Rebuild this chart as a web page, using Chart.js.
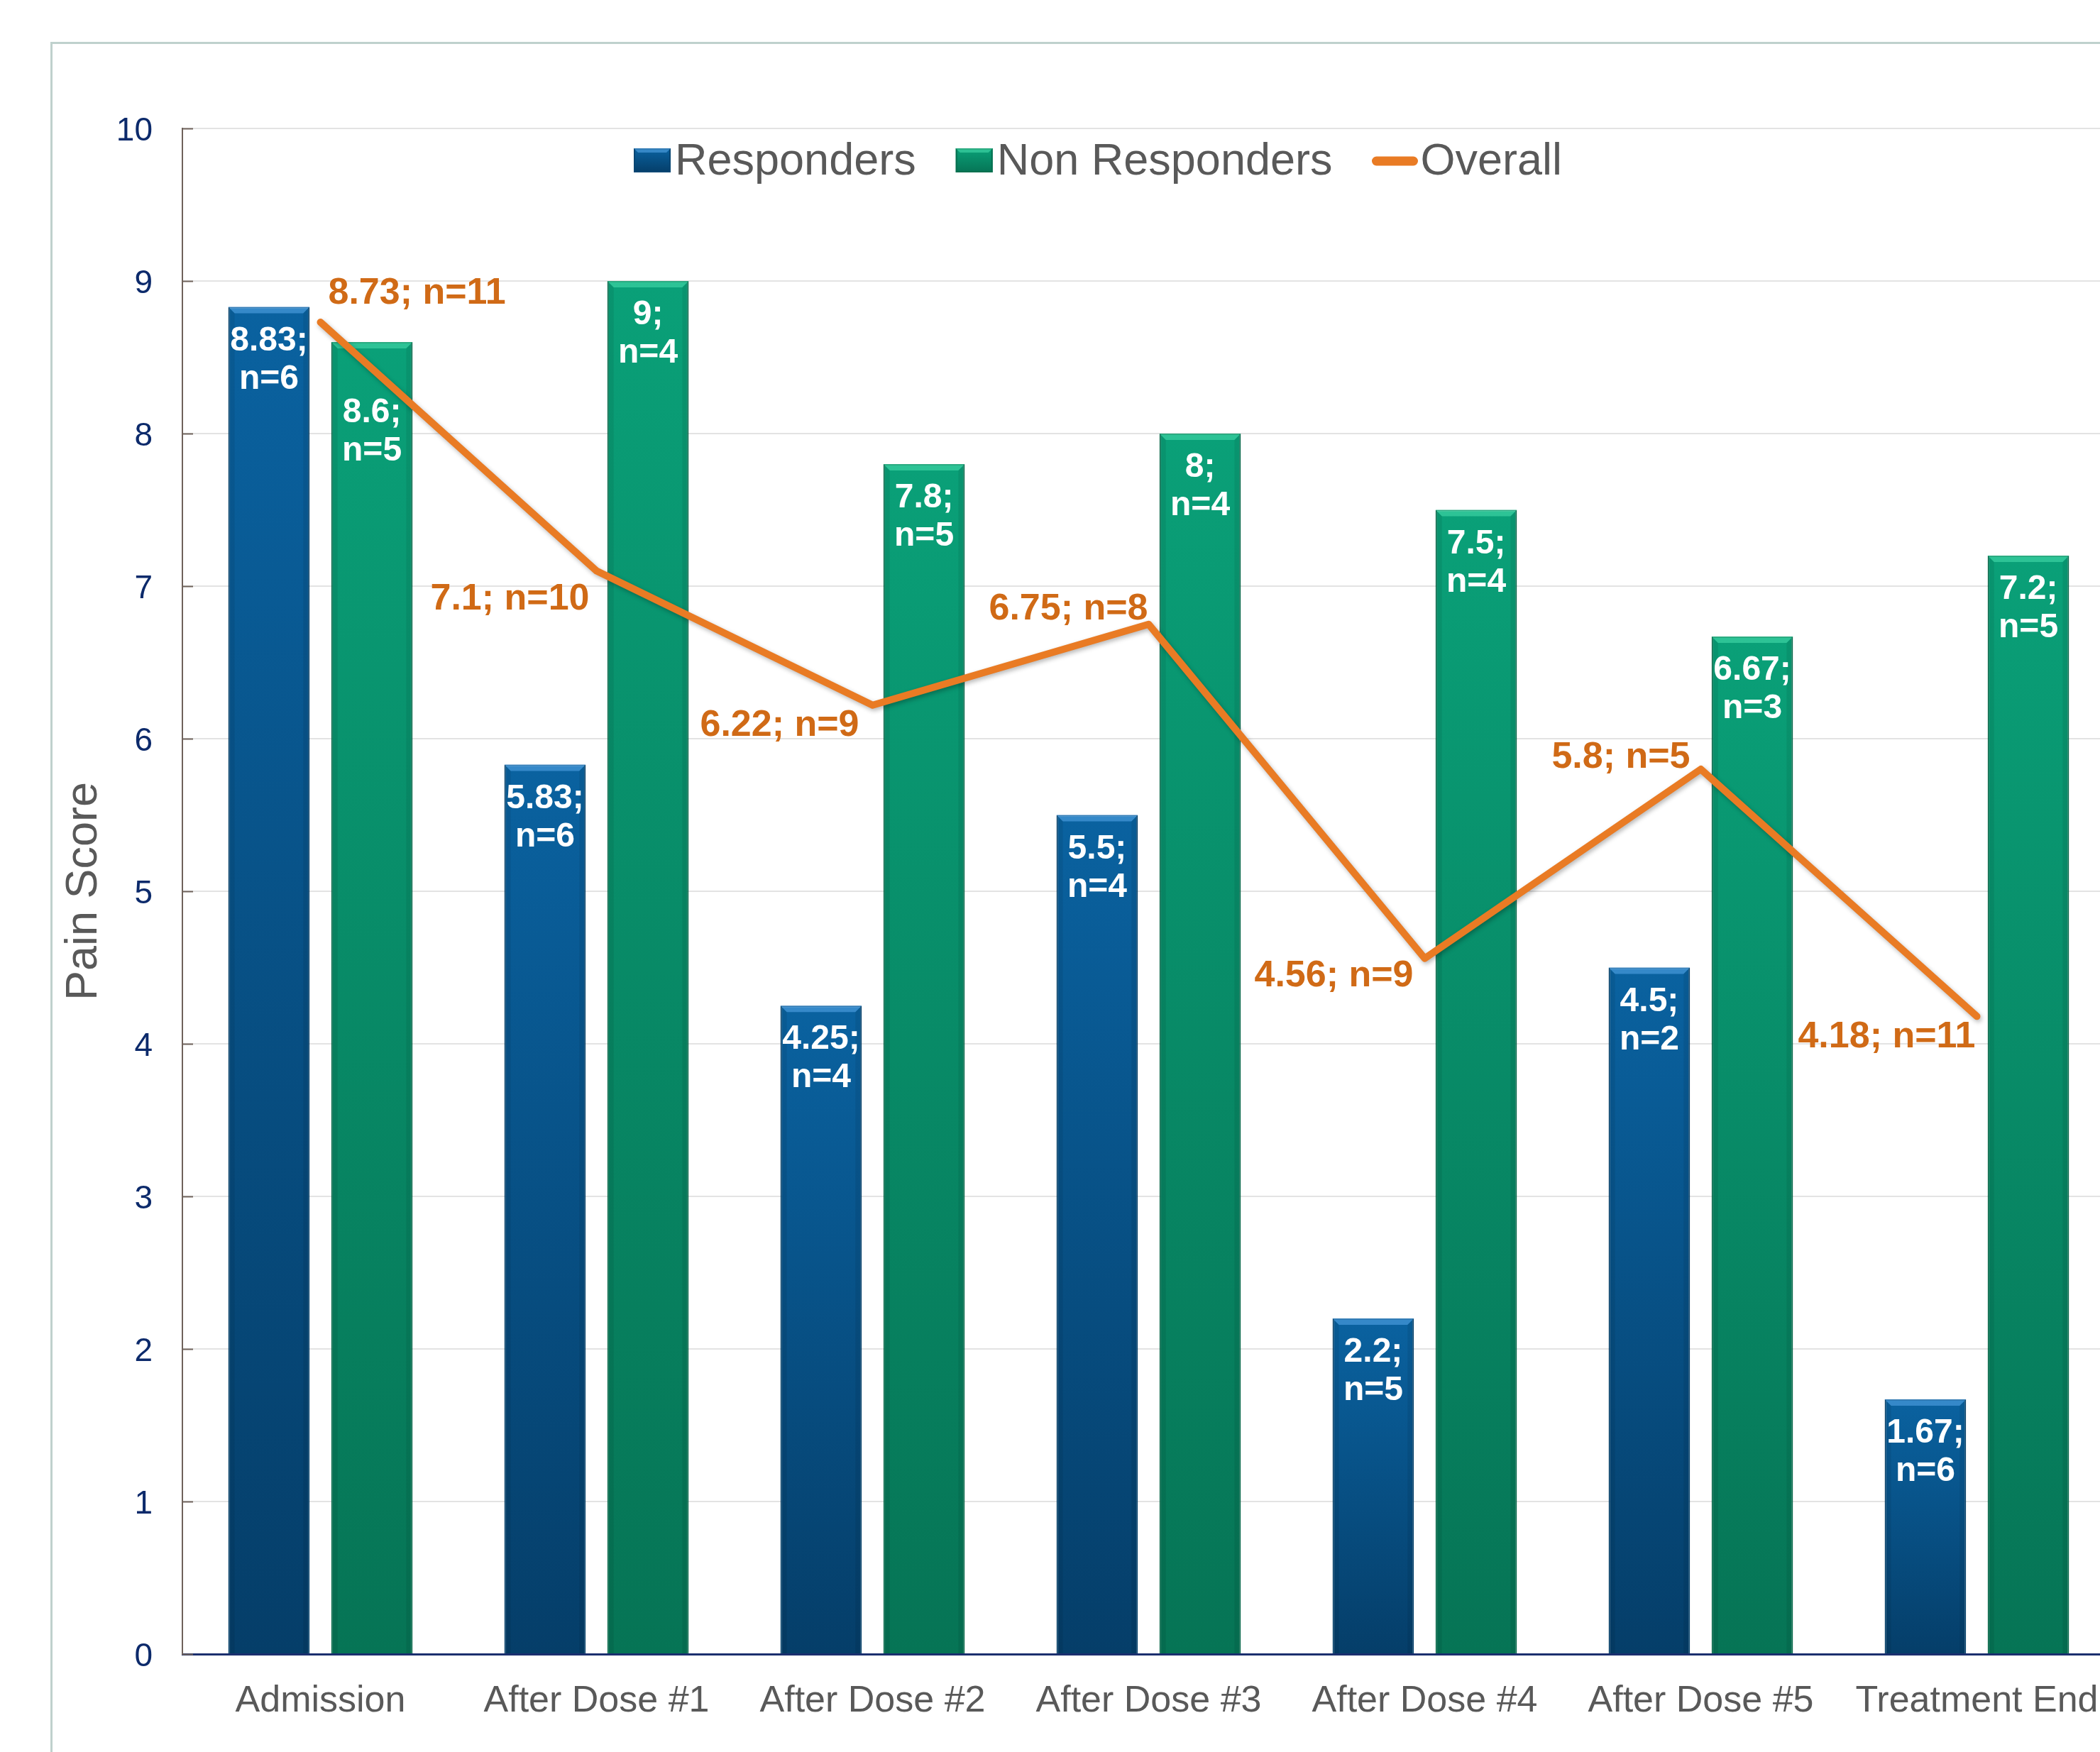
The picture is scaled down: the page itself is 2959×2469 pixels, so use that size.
<!DOCTYPE html>
<html>
<head>
<meta charset="utf-8">
<script src="https://cdn.jsdelivr.net/npm/chart.js@4.4.1/dist/chart.umd.min.js"></script>
<style>
html,body{margin:0;padding:0;background:#ffffff;overflow:hidden;width:2959px;height:2469px}
canvas{position:absolute;left:0;top:0}
</style>
</head>
<body>
<canvas id="c" width="3000" height="2469"></canvas>
<script>
// ---- data ----
const categories = ['Admission', 'After Dose #1', 'After Dose #2', 'After Dose #3', 'After Dose #4', 'After Dose #5', 'Treatment End'];
const seriesNames = ['Responders', 'Non Responders', 'Overall'];
const responders = [8.83, 5.83, 4.25, 5.5, 2.2, 4.5, 1.67];
const respondersN = [6, 6, 4, 4, 5, 2, 6];
const nonResponders = [8.6, 9, 7.8, 8, 7.5, 6.67, 7.2];
const nonRespondersN = [5, 4, 5, 4, 4, 3, 5];
const overall = [8.73, 7.1, 6.22, 6.75, 4.56, 5.8, 4.18];
const overallN = [11, 10, 9, 8, 9, 5, 11];
const yAxisTitle = 'Pain Score';
const yMin = 0, yMax = 10, yStep = 1;

// ---- style ----
const FONT = '"Liberation Sans", Arial, Helvetica, sans-serif';
const BLUE = ['#0a62a0', '#053e69'];
const GREEN = ['#0aa078', '#067455'];
const BLUE_BORDER = '#064673';
const GREEN_BORDER = '#06704f';
const ORANGE = '#e97b24';
const ORANGE_TEXT = '#d06a16';
const GRAY_TEXT = '#595959';
const NAVY = '#0c2a6b';
// label placement for the line labels (side of point, horizontal gap, vertical shift)
const overallLabelPlacement = [
  {side: 'right', dx: 11, dy: -40}, {side: 'left', dx: -10, dy: 40}, {side: 'left', dx: -19, dy: 29},
  {side: 'left', dx: -1, dy: -21}, {side: 'left', dx: -16, dy: 25}, {side: 'left', dx: -15, dy: -16},
  {side: 'left', dx: -2, dy: 29}
];
// extra vertical shift of in-bar labels (Non Responders), in px
const nonRespLabelShift = [52, 0, 0, 0, 0, 0, 0];

Chart.defaults.font.family = FONT;

function barGradient(c, stops) {
  const chart = c.chart;
  const ys = chart.scales && chart.scales.y;
  if (!ys || c.raw == null || !chart.chartArea) return stops[0];
  const top = ys.getPixelForValue(c.raw);
  const base = ys.getPixelForValue(0);
  if (!isFinite(top) || !isFinite(base) || top === base) return stops[0];
  const g = chart.ctx.createLinearGradient(0, top, 0, base);
  g.addColorStop(0, stops[0]);
  g.addColorStop(1, stops[1]);
  return g;
}

const framePlugin = {
  id: 'frame',
  beforeDraw(chart) {
    const ctx = chart.ctx;
    ctx.save();
    ctx.strokeStyle = '#bfd1cd';
    ctx.lineWidth = 3;
    ctx.beginPath();
    ctx.moveTo(72.5, chart.height + 10);
    ctx.lineTo(72.5, 60.5);
    ctx.lineTo(chart.width + 10, 60.5);
    ctx.stroke();
    ctx.restore();
  }
};

function drawBevel(ctx, l, r, top, base, light) {
  const b = 9;
  const h = base - top;
  if (h < 2 * b) return;
  ctx.fillStyle = light;
  ctx.beginPath();
  ctx.moveTo(l, top); ctx.lineTo(r, top); ctx.lineTo(r - b, top + b); ctx.lineTo(l + b, top + b);
  ctx.closePath(); ctx.fill();
  ctx.fillStyle = 'rgba(0,0,0,0.07)';
  ctx.beginPath();
  ctx.moveTo(l, top); ctx.lineTo(l + b, top + b); ctx.lineTo(l + b, base); ctx.lineTo(l, base);
  ctx.closePath(); ctx.fill();
  ctx.beginPath();
  ctx.moveTo(r, top); ctx.lineTo(r - b, top + b); ctx.lineTo(r - b, base); ctx.lineTo(r, base);
  ctx.closePath(); ctx.fill();
}

const barDecorPlugin = {
  id: 'barDecor',
  beforeDatasetDraw(chart, args) {
    const meta = args.meta;
    if (meta.type === 'line') {
      const ctx = chart.ctx;
      ctx.save();
      ctx.shadowColor = 'rgba(0,0,0,0.28)';
      ctx.shadowBlur = 6;
      ctx.shadowOffsetX = 2;
      ctx.shadowOffsetY = 3;
    }
  },
  afterDatasetDraw(chart, args) {
    const meta = args.meta;
    const ctx = chart.ctx;
    if (meta.type === 'line') { ctx.restore(); return; }
    if (meta.type !== 'bar') return;
    const ns = args.index === 0 ? respondersN : nonRespondersN;
    const vals = args.index === 0 ? responders : nonResponders;
    const light = args.index === 0 ? 'rgba(90,170,235,0.55)' : 'rgba(80,230,180,0.5)';
    ctx.save();
    meta.data.forEach((el, i) => {
      const p = el.getProps(['x', 'y', 'base', 'width'], true);
      drawBevel(ctx, p.x - p.width / 2, p.x + p.width / 2, p.y, p.base, light);
    });
    ctx.fillStyle = '#ffffff';
    ctx.font = 'bold 48px ' + FONT;
    ctx.textAlign = 'center';
    ctx.textBaseline = 'middle';
    meta.data.forEach((el, i) => {
      const p = el.getProps(['x', 'y'], true);
      const s = args.index === 1 ? nonRespLabelShift[i] : 0;
      ctx.fillText(vals[i] + ';', p.x, p.y + 48 + s);
      ctx.fillText('n=' + ns[i], p.x, p.y + 102 + s);
    });
    ctx.restore();
  },
  afterDatasetsDraw(chart) {
    const ctx = chart.ctx;
    const meta = chart.getDatasetMeta(2);
    ctx.save();
    ctx.fillStyle = ORANGE_TEXT;
    ctx.font = 'bold 52px ' + FONT;
    ctx.textBaseline = 'middle';
    meta.data.forEach((el, i) => {
      const p = el.getProps(['x', 'y'], true);
      const pl = overallLabelPlacement[i];
      const txt = overall[i] + '; n=' + overallN[i];
      ctx.textAlign = pl.side === 'right' ? 'left' : 'right';
      ctx.fillText(txt, p.x + pl.dx, p.y + pl.dy);
    });
    ctx.restore();
  },
  afterDraw(chart) {
    const ctx = chart.ctx;
    const ys = chart.scales.y;
    const area = chart.chartArea;
    // inner tick marks
    ctx.save();
    ctx.strokeStyle = '#6f625b';
    ctx.lineWidth = 2;
    ys.ticks.forEach((t, i) => {
      const yy = Math.round(ys.getPixelForTick(i)) + 0.5;
      ctx.beginPath(); ctx.moveTo(area.left, yy); ctx.lineTo(area.left + 15, yy); ctx.stroke();
    });
    ctx.restore();
    // legend
    ctx.save();
    ctx.font = '63px ' + FONT;
    ctx.textBaseline = 'middle';
    ctx.textAlign = 'left';
    const cy = area.top + 44;
    let x = area.left + 636;
    const boxes = [BLUE, GREEN];
    const lights = ['rgba(90,170,235,0.55)', 'rgba(80,230,180,0.5)'];
    const borders = [BLUE_BORDER, GREEN_BORDER];
    for (let k = 0; k < 2; k++) {
      const top = cy - 16, h = 34, w = 52;
      const g = ctx.createLinearGradient(0, top, 0, top + h);
      g.addColorStop(0, boxes[k][0]); g.addColorStop(1, boxes[k][1]);
      ctx.fillStyle = g;
      ctx.fillRect(x, top, w, h);
      ctx.strokeStyle = borders[k]; ctx.lineWidth = 2;
      ctx.strokeRect(x + 1, top + 1, w - 2, h - 2);
      ctx.fillStyle = lights[k];
      ctx.beginPath(); ctx.moveTo(x, top); ctx.lineTo(x + w, top); ctx.lineTo(x + w - 6, top + 6); ctx.lineTo(x + 6, top + 6); ctx.closePath(); ctx.fill();
      x += w + 6;
      ctx.fillStyle = GRAY_TEXT;
      ctx.fillText(seriesNames[k], x, cy + 4);
      x += ctx.measureText(seriesNames[k]).width + 56;
    }
    ctx.strokeStyle = ORANGE; ctx.lineWidth = 13; ctx.lineCap = 'round';
    ctx.beginPath(); ctx.moveTo(x + 6, cy + 2); ctx.lineTo(x + 58, cy + 2); ctx.stroke();
    x += 68;
    ctx.fillStyle = GRAY_TEXT;
    ctx.fillText(seriesNames[2], x, cy + 4);
    ctx.restore();
  }
};

new Chart(document.getElementById('c'), {
  data: {
    labels: categories,
    datasets: [
      {
        type: 'bar', label: seriesNames[0], data: responders, order: 1,
        backgroundColor: (c) => barGradient(c, BLUE),
        borderColor: BLUE_BORDER, borderWidth: 2, borderSkipped: 'bottom',
        categoryPercentage: 0.746, barPercentage: 0.79
      },
      {
        type: 'bar', label: seriesNames[1], data: nonResponders, order: 1,
        backgroundColor: (c) => barGradient(c, GREEN),
        borderColor: GREEN_BORDER, borderWidth: 2, borderSkipped: 'bottom',
        categoryPercentage: 0.746, barPercentage: 0.79
      },
      {
        type: 'line', label: seriesNames[2], data: overall, order: 0,
        borderColor: ORANGE, backgroundColor: ORANGE, borderWidth: 10,
        pointRadius: 0, pointHoverRadius: 0, tension: 0, fill: false,
        borderCapStyle: 'round', borderJoinStyle: 'round'
      }
    ]
  },
  options: {
    responsive: false,
    animation: false,
    devicePixelRatio: 1,
    layout: {padding: {left: 0, top: 181, right: 20, bottom: 0}},
    plugins: {
      legend: {display: false},
      tooltip: {enabled: false},
      title: {display: false}
    },
    scales: {
      x: {
        grid: {display: false, drawTicks: false},
        border: {display: true, color: '#1b2f6e', width: 3},
        ticks: {color: GRAY_TEXT, font: {size: 52}, padding: 35, maxRotation: 0, autoSkip: false},
        afterFit(scale) { scale.height = 138; }
      },
      y: {
        min: yMin, max: yMax,
        ticks: {stepSize: yStep, color: NAVY, font: {size: 46}, padding: 42, labelOffset: 4},
        grid: {color: '#e3e3e3', lineWidth: 2, drawTicks: false},
        border: {display: true, color: '#6f625b', width: 2},
        title: {display: true, text: yAxisTitle, color: GRAY_TEXT, font: {size: 63}, padding: {top: 81, bottom: 0}},
        afterFit(scale) { scale.width = 257; }
      }
    }
  },
  plugins: [framePlugin, barDecorPlugin]
});
</script>
</body>
</html>
